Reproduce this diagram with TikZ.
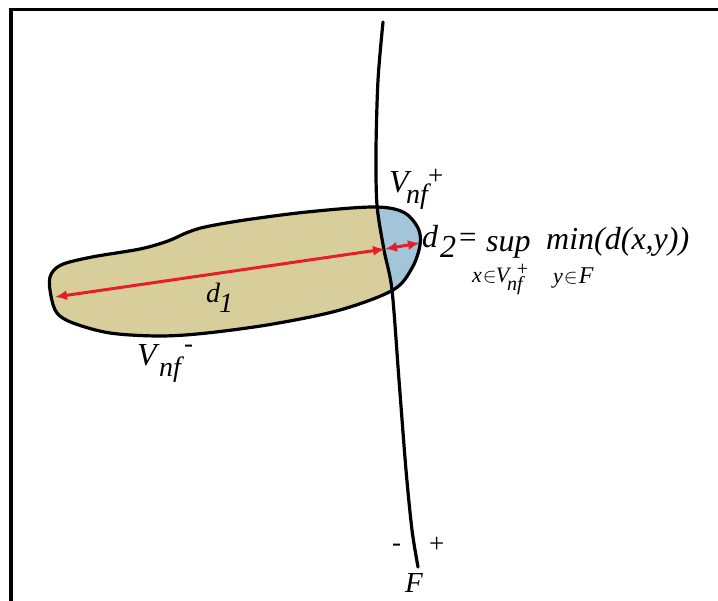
\documentclass[tikz,border=0pt]{standalone}
\usepackage{fontspec}
\setmainfont{Liberation Serif}
\usetikzlibrary{arrows.meta}
\definecolor{sand}{RGB}{216,206,155}
\definecolor{lens}{RGB}{163,197,218}
\definecolor{arrowred}{RGB}{230,30,40}
\tikzset{
  lbl/.style={inner sep=0pt, anchor=base west, font=\itshape\fontsize{32}{32}\selectfont},
  lblmid/.style={inner sep=0pt, anchor=base west, font=\itshape\fontsize{28}{28}\selectfont},
  lblsub/.style={inner sep=0pt, anchor=base west, font=\itshape\fontsize{22}{22}\selectfont},
  lblup/.style={inner sep=0pt, anchor=base west, font=\fontsize{27}{27}\selectfont},
  outline/.style={line width=3.2pt, black},
  dist/.style={arrowred, line width=3pt, {Latex[length=12pt,width=10pt]}-{Latex[length=12pt,width=10pt]}},
}
\begin{document}
\begin{tikzpicture}[x=1pt,y=-1pt]
\useasboundingbox (0,0) rectangle (718,601);
% frame
\draw[line width=3.5pt] (11,601) -- (11,9.5) -- (718,9.5);
\def\blobpath{plot[smooth cycle, tension=0.55] coordinates {(50,277) (61,265) (92,257) (140,249) (168,241) (186,233) (205,227) (245,220) (307,212) (373,207) (403,212) (418,228) (420,245) (412,268) (393,290) (340,310) (273,324) (207,333) (160,336) (110,333) (73,323) (57,313) (51,296)}}
\def\fpts{(383,22) (378,80) (376,150) (377,205) (384,250) (392,290) (399,380) (406,470) (412,530) (418,567)}
% blob fill
\fill[sand] \blobpath;
\begin{scope}
  \clip plot[smooth] coordinates {\fpts} -- (718,567) -- (718,22) -- cycle;
  \fill[lens] \blobpath;
\end{scope}
\draw[outline] \blobpath;
% F curve
\draw[outline, line cap=round] plot[smooth] coordinates {\fpts};
% distance arrows
\coordinate (p1) at (55,297);
\coordinate (pc) at (385,249);
\coordinate (p2) at (420,243);
\draw[dist] (pc) -- (p1);
\draw[dist] (pc) -- (p2);
% labels
\node[lblmid] (d1d) at (206,303) {d};
\node[lblmid] (d1n) at (219,313) {1};
\node[lbl] (vpV) at (389,193) {V};
\node[lblmid] (vpnf) at (406,204) {nf};
\node[lblup] (vpplus) at (428,185) {+};
\node[lbl] (vmV) at (137,366) {V};
\node[lblmid] (vmnf) at (159,377) {nf};
\node[lblup] (vmminus) at (184,353) {-};
\node[lbl] (d2d) at (422,248) {d};
\node[lbl] (d2n) at (440,258) {2};
\node[inner sep=0pt, anchor=base west, font=\fontsize{31}{31}\selectfont] (eq) at (459,248) {=};
\node[lbl] (sup) at (486,252) {sup};
\node[lbl] (min) at (546,250) {min(d(x,y))};
\node[lblsub] (subx) at (472,283) {x\kern1pt$\in$\kern-1pt V\kern-2pt\raisebox{-8pt}{\fontsize{20}{20}\selectfont nf}\kern-6pt\raisebox{7pt}{\upshape\fontsize{20}{20}\selectfont +}};
\node[lblsub] (suby) at (553,284) {y\kern1pt$\in$\kern1pt{\fontsize{24}{24}\selectfont F}};
\node[lblup] (bminus) at (392,551) {-};
\node[lblup] (bplus) at (429,552) {+};
\node[inner sep=0pt, anchor=base west, font=\itshape\fontsize{29}{29}\selectfont] (Flbl) at (405,592) {F};
\end{tikzpicture}
\end{document}
